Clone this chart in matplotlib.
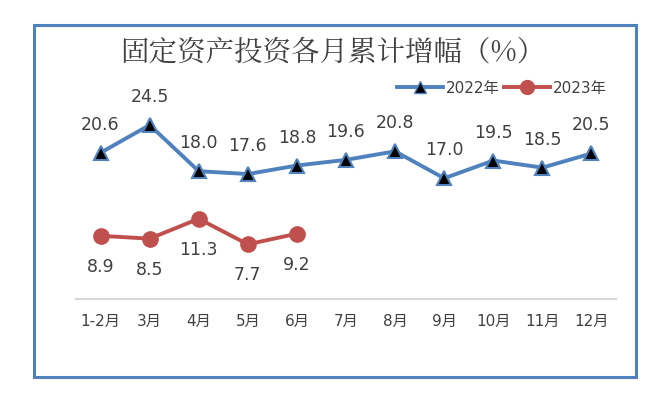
import matplotlib.pyplot as plt
from matplotlib.patches import Rectangle
from matplotlib.lines import Line2D

plt.rcParams['font.family'] = ['DejaVu Sans', 'Noto Sans CJK SC']

months = ['1-2月', '3月', '4月', '5月', '6月', '7月', '8月', '9月', '10月', '11月', '12月']
values_2022 = [20.6, 24.5, 18.0, 17.6, 18.8, 19.6, 20.8, 17.0, 19.5, 18.5, 20.5]
values_2023 = [8.9, 8.5, 11.3, 7.7, 9.2]

blue = '#4f81bd'
red = '#c0504d'
text_color = '#404040'

fig = plt.figure(figsize=(6.46, 3.97), dpi=100)
fig.patch.set_facecolor('white')

# outer frame
fig.patches.append(Rectangle((34 / 646, 1 - 377 / 397), 602 / 646, 352 / 397,
                             transform=fig.transFigure, fill=False,
                             edgecolor=blue, linewidth=2.2))

ax = fig.add_axes([76 / 646, 98 / 397, 540 / 646, 213 / 397])
x = list(range(len(months)))
ax.plot(x, values_2022, color=blue, linewidth=2.8, marker='^', markersize=10,
        markerfacecolor='black', markeredgecolor=blue, markeredgewidth=1.5, zorder=3)
ax.plot(x[:len(values_2023)], values_2023, color=red, linewidth=2.8, marker='o',
        markersize=11, markerfacecolor=red, markeredgecolor=red, zorder=3)

# data labels: 2022 above, 2023 below
for i, v in enumerate(values_2022):
    ax.annotate(f'{v:.1f}', (i, v), xytext=(0, 28), textcoords='offset pixels',
                ha='center', va='center', fontsize=12.5, color=text_color)
for i, v in enumerate(values_2023):
    ax.annotate(f'{v:.1f}', (i, v), xytext=(0, -31), textcoords='offset pixels',
                ha='center', va='center', fontsize=12.5, color=text_color)

ax.set_xlim(-0.5, len(months) - 0.5)
ax.set_ylim(0, 30)
ax.set_xticks(x)
ax.set_xticklabels(months, fontsize=11, color=text_color)
ax.tick_params(axis='x', length=0, pad=11)
ax.set_yticks([])
for side in ['top', 'right', 'left']:
    ax.spines[side].set_visible(False)
ax.spines['bottom'].set_color('#d9d9d9')
ax.spines['bottom'].set_linewidth(1.5)
ax.set_facecolor('none')

fig.text(333 / 646, 1 - 53 / 397, '固定资产投资各月累计增幅（%）', ha='center', va='center',
         fontsize=20.5, fontweight='medium', color=text_color,
         family=['Noto Serif CJK SC', 'Noto Sans CJK SC'])

handles = [
    Line2D([], [], color=blue, linewidth=2.8, marker='^', markersize=9,
           markerfacecolor='black', markeredgecolor=blue),
    Line2D([], [], color=red, linewidth=2.8, marker='o', markersize=10),
]
fig.legend(handles, ['2022年', '2023年'], loc='center', bbox_to_anchor=(502 / 646, 1 - 88 / 397),
           ncol=2, frameon=False, handlelength=3.0, handletextpad=0.2,
           columnspacing=0.3, labelcolor=text_color,
           prop={'family': ['DejaVu Sans', 'Noto Sans CJK SC'], 'size': 11})

fig.savefig('out.png', dpi=100)
